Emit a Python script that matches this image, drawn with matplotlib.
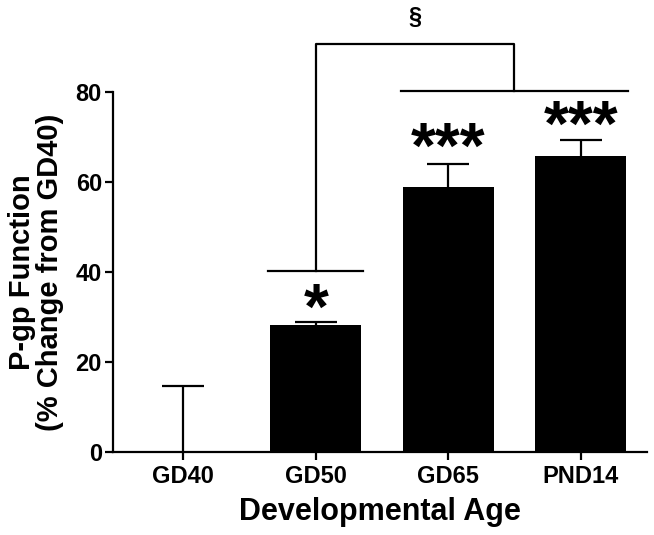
import matplotlib.pyplot as plt
import numpy as np

# Data
ages = ["GD40", "GD50", "GD65", "PND14"]
pgp_change = [0.0, 28.3, 59.0, 65.7]
sem_upper = [14.7, 0.7, 5.1, 3.6]
stars = ["", "*", "***", "***"]
star_base = [0, 27.4, 63.1, 68.0]

plt.rcParams['font.family'] = ['Liberation Sans', 'DejaVu Sans']
plt.rcParams['font.weight'] = 'bold'

fig = plt.figure(figsize=(6.54, 5.35), dpi=100)
ax = fig.add_axes([0.1728, 0.155, 0.8165, 0.673])

x = np.arange(len(ages))
ax.bar(x, pgp_change, width=0.686, color='black', zorder=2)
eb = ax.errorbar(x, pgp_change, yerr=[np.zeros(len(x)), sem_upper], fmt='none',
                 ecolor='black', elinewidth=1.6, capsize=15, capthick=1.6,
                 zorder=1)
# only the upper caps are visible in the original
eb[1][0].set_visible(False)

for xi, s, sb in zip(x, stars, star_base):
    if s:
        ax.text(xi, sb, s, ha='center', va='baseline', fontsize=46,
                fontweight='bold', clip_on=False, zorder=3)

# significance brackets
lw = 1.6
ax.plot([0.64, 1.36], [40.2, 40.2], color='black', lw=lw, clip_on=False)
ax.plot([1.64, 3.36], [80.3, 80.3], color='black', lw=lw, clip_on=False)
ax.plot([1, 1, 2.5, 2.5], [40.2, 90.7, 90.7, 80.3], color='black', lw=lw,
        clip_on=False)
ax.text(1.75, 94, "§", ha='center', va='bottom', fontsize=17,
        fontweight='bold', clip_on=False)

ax.set_xlim(-0.53, 3.5)
ax.set_ylim(0, 80)
ax.set_yticks([0, 20, 40, 60, 80])
ax.set_xticks(x)
ax.set_xticklabels(ages)
ax.tick_params(axis='both', labelsize=17, width=1.6, length=6, direction='out')
ax.tick_params(axis='y', pad=2)
for lab in ax.get_xticklabels() + ax.get_yticklabels():
    lab.set_fontweight('bold')

ax.spines['top'].set_visible(False)
ax.spines['right'].set_visible(False)
ax.spines['left'].set_linewidth(1.6)
ax.spines['bottom'].set_linewidth(1.6)

ax.set_xlabel("Developmental Age", fontsize=22, fontweight='bold', labelpad=6)
ax.set_ylabel("P-gp Function\n(% Change from GD40)", fontsize=21,
              fontweight='bold', labelpad=8, linespacing=1.0)

fig.savefig("out.png", dpi=100)
